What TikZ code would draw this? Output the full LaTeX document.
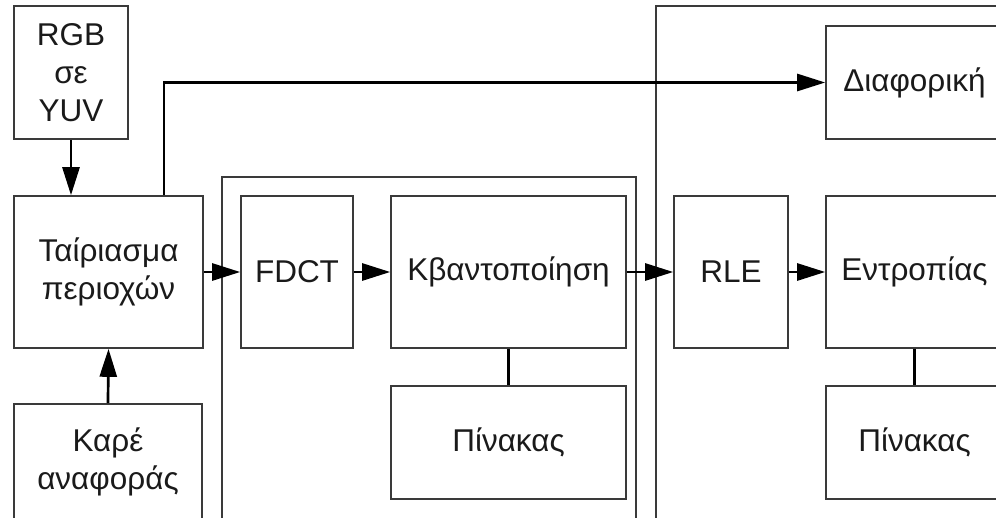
\documentclass[tikz,border=0pt]{standalone}
\usepackage{fontspec}
\setmainfont{Liberation Sans}
\usetikzlibrary{arrows.meta}
\definecolor{edgegray}{HTML}{3A3A3A}
\definecolor{txt}{HTML}{1A1A1A}
\begin{document}
\begin{tikzpicture}[x=1pt,y=-1pt,
  blk/.style={draw=edgegray,line width=1.6pt,fill=white,inner sep=0pt,
    align=center,text=txt,font=\fontsize{31.5}{38}\selectfont},
  cont/.style={draw=edgegray,line width=1.6pt},
  conn/.style={draw=black,line width=2.7pt},
  arr/.style={conn,-{Triangle[length=28pt,width=17pt]}}]
\useasboundingbox (0,0) rectangle (996,517);
\clip (0,0) rectangle (996,517);
% containers
\draw[cont] (222,177) rectangle (636,540);
\draw[cont] (656,6) rectangle (1020,540);
% blocks
\node[blk,minimum width=114pt,minimum height=133pt] (rgb) at (71,72.5) {RGB\\σε\\YUV};
\node[blk,minimum width=189pt,minimum height=152pt] (tai) at (108.5,272) {Ταίριασμα\\περιοχών};
\node[blk,minimum width=188pt,minimum height=115pt] (kare) at (108,461.5) {Καρέ\\αναφοράς};
\node[blk,minimum width=112pt,minimum height=152pt] (fdct) at (297,272) {FDCT};
\node[blk,minimum width=235pt,minimum height=152pt] (kv) at (508.5,272) {Κβαντοποίηση};
\node[blk,minimum width=235pt,minimum height=113pt] (pin1) at (508.5,442.5) {Πίνακας};
\node[blk,minimum width=114pt,minimum height=152pt] (rle) at (731,272) {RLE};
\node[blk,minimum width=177pt,minimum height=113pt] (diaf) at (914.5,82.5) {Διαφορική};
\node[blk,minimum width=177pt,minimum height=152pt] (ent) at (914.5,272) {Εντροπίας};
\node[blk,minimum width=177pt,minimum height=113pt] (pin2) at (914.5,442.5) {Πίνακας};
\coordinate (k) at (164,0);
% connectors
\draw[arr] (rgb.south) -- (rgb.south |- tai.north);
\draw[arr] (kare.north) -- (tai.south);
\draw[arr] (tai.north -| k) |- (diaf.west);
\draw[arr] (tai.east) -- (fdct.west);
\draw[arr] (fdct.east) -- (kv.west);
\draw[arr] (kv.east) -- (rle.west);
\draw[arr] (rle.east) -- (ent.west);
\draw[conn] (kv.south) -- (pin1.north);
\draw[conn] (ent.south) -- (pin2.north);
\end{tikzpicture}
\end{document}
